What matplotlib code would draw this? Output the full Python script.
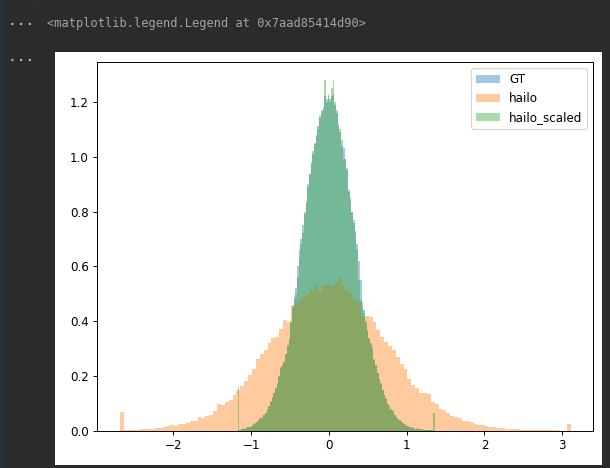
import numpy as np
import matplotlib
matplotlib.use("Agg")
import matplotlib.pyplot as plt
from matplotlib.patches import Rectangle
from matplotlib.lines import Line2D

# histogram densities (116 equal bins per series)
hailo_range = (-2.69, 3.11)
hailo_density = [
    0.068, 0.002, 0.004, 0.005, 0.004, 0.006, 0.007, 0.006, 0.009, 0.011,
    0.012, 0.014, 0.018, 0.022, 0.019, 0.024, 0.026, 0.030, 0.036, 0.038,
    0.052, 0.047, 0.056, 0.060, 0.072, 0.098, 0.096, 0.106, 0.112, 0.131,
    0.150, 0.165, 0.182, 0.204, 0.226, 0.262, 0.280, 0.296, 0.322, 0.338,
    0.344, 0.372, 0.405, 0.399, 0.454, 0.466, 0.478, 0.490, 0.500, 0.515,
    0.533, 0.505, 0.530, 0.533, 0.528, 0.540, 0.557, 0.527, 0.515, 0.502,
    0.478, 0.470, 0.417, 0.420, 0.417, 0.399, 0.369, 0.344, 0.325, 0.310,
    0.296, 0.271, 0.245, 0.226, 0.190, 0.168, 0.156, 0.137, 0.137, 0.134,
    0.106, 0.100, 0.080, 0.078, 0.065, 0.056, 0.050, 0.046, 0.038, 0.037,
    0.031, 0.024, 0.022, 0.021, 0.017, 0.015, 0.013, 0.012, 0.011, 0.008,
    0.007, 0.006, 0.007, 0.005, 0.005, 0.004, 0.004, 0.003, 0.004, 0.003,
    0.002, 0.002, 0.002, 0.001, 0.001, 0.026,
]

scaled_range = (-1.1747, 1.358)
scaled_density = [
    0.162, 0.003, 0.008, 0.010, 0.009, 0.014, 0.016, 0.015, 0.020, 0.025,
    0.028, 0.032, 0.042, 0.050, 0.044, 0.060, 0.065, 0.082, 0.090, 0.110,
    0.125, 0.140, 0.155, 0.174, 0.200, 0.235, 0.240, 0.247, 0.280, 0.310,
    0.332, 0.400, 0.460, 0.480, 0.500, 0.560, 0.630, 0.680, 0.720, 0.800,
    0.830, 0.900, 0.940, 0.980, 1.020, 1.050, 1.080, 1.100, 1.140, 1.160,
    1.170, 1.280, 1.210, 1.230, 1.200, 1.250, 1.280, 1.200, 1.170, 1.120,
    1.100, 1.060, 0.990, 0.990, 0.960, 0.870, 0.840, 0.795, 0.760, 0.720,
    0.660, 0.550, 0.478, 0.450, 0.430, 0.400, 0.369, 0.340, 0.320, 0.305,
    0.260, 0.240, 0.210, 0.190, 0.175, 0.150, 0.130, 0.120, 0.100, 0.090,
    0.080, 0.075, 0.060, 0.052, 0.045, 0.040, 0.035, 0.030, 0.024, 0.020,
    0.018, 0.016, 0.012, 0.014, 0.009, 0.010, 0.008, 0.007, 0.008, 0.006,
    0.004, 0.005, 0.004, 0.002, 0.003, 0.065,
]

gt_range = (-1.1747, 1.358)
gt_density = [
    0.002, 0.003, 0.006, 0.008, 0.009, 0.012, 0.015, 0.016, 0.019, 0.024,
    0.028, 0.033, 0.040, 0.046, 0.050, 0.058, 0.066, 0.078, 0.090, 0.106,
    0.122, 0.138, 0.155, 0.172, 0.196, 0.228, 0.240, 0.255, 0.280, 0.315,
    0.340, 0.395, 0.450, 0.490, 0.520, 0.600, 0.660, 0.700, 0.750, 0.790,
    0.840, 0.890, 0.935, 0.975, 1.010, 1.045, 1.075, 1.110, 1.150, 1.170,
    1.180, 1.220, 1.200, 1.220, 1.210, 1.220, 1.230, 1.190, 1.160, 1.110,
    1.090, 1.040, 1.030, 0.990, 0.950, 0.880, 0.850, 0.800, 0.770, 0.730,
    0.680, 0.620, 0.550, 0.470, 0.440, 0.395, 0.365, 0.335, 0.315, 0.295,
    0.262, 0.236, 0.210, 0.188, 0.170, 0.148, 0.130, 0.116, 0.100, 0.088,
    0.078, 0.070, 0.060, 0.050, 0.044, 0.038, 0.033, 0.028, 0.023, 0.020,
    0.017, 0.014, 0.012, 0.011, 0.009, 0.008, 0.007, 0.006, 0.005, 0.004,
    0.004, 0.003, 0.003, 0.002, 0.002, 0.001,
]

series = [
    ("GT", gt_range, gt_density),
    ("hailo", hailo_range, hailo_density),
    ("hailo_scaled", scaled_range, scaled_density),
]

# the chart is a scaled-down notebook screenshot, so render at a lower dpi
dpi = 85.5
fig = plt.figure(figsize=(610 / dpi, 468 / dpi), dpi=dpi, facecolor="#2b2b2b")

# notebook chrome
fig.add_artist(Line2D([1 / 610, 1 / 610], [0, 1], color="#1c3a52", lw=1.2))
fig.add_artist(Line2D([33 / 610, 1], [463 / 468, 463 / 468], color="#1c3447", lw=1.0))
fig.add_artist(Line2D([33 / 610, 33 / 610], [463 / 468, 1], color="#1c3447", lw=1.0))
for y_px in (24, 61):
    fig.text(10 / 610, 1 - y_px / 468, "· · ·", color="#b4b4b4", fontsize=10,
             fontweight="bold", va="center", ha="left")
fig.text(47 / 610, 1 - 24 / 468, "<matplotlib.legend.Legend at 0x7aad85414d90>",
         family="DejaVu Sans Mono", color="#a3a3a3", fontsize=10.1,
         va="center", ha="left")

# white output area of the cell
fig.add_artist(Rectangle((55 / 610, 3 / 468), 547 / 610, 413 / 468,
                         transform=fig.transFigure, facecolor="white",
                         edgecolor="none", zorder=0))

ax = fig.add_axes([97.3 / 610, 37 / 468, 496 / 610, 368.7 / 468])

for name, (lo, hi), dens in series:
    edges = np.linspace(lo, hi, len(dens) + 1)
    centers = (edges[:-1] + edges[1:]) / 2
    ax.hist(centers, bins=edges, weights=dens, alpha=0.4, label=name)

ax.legend()

fig.savefig("out.png", dpi=dpi, facecolor=fig.get_facecolor())
